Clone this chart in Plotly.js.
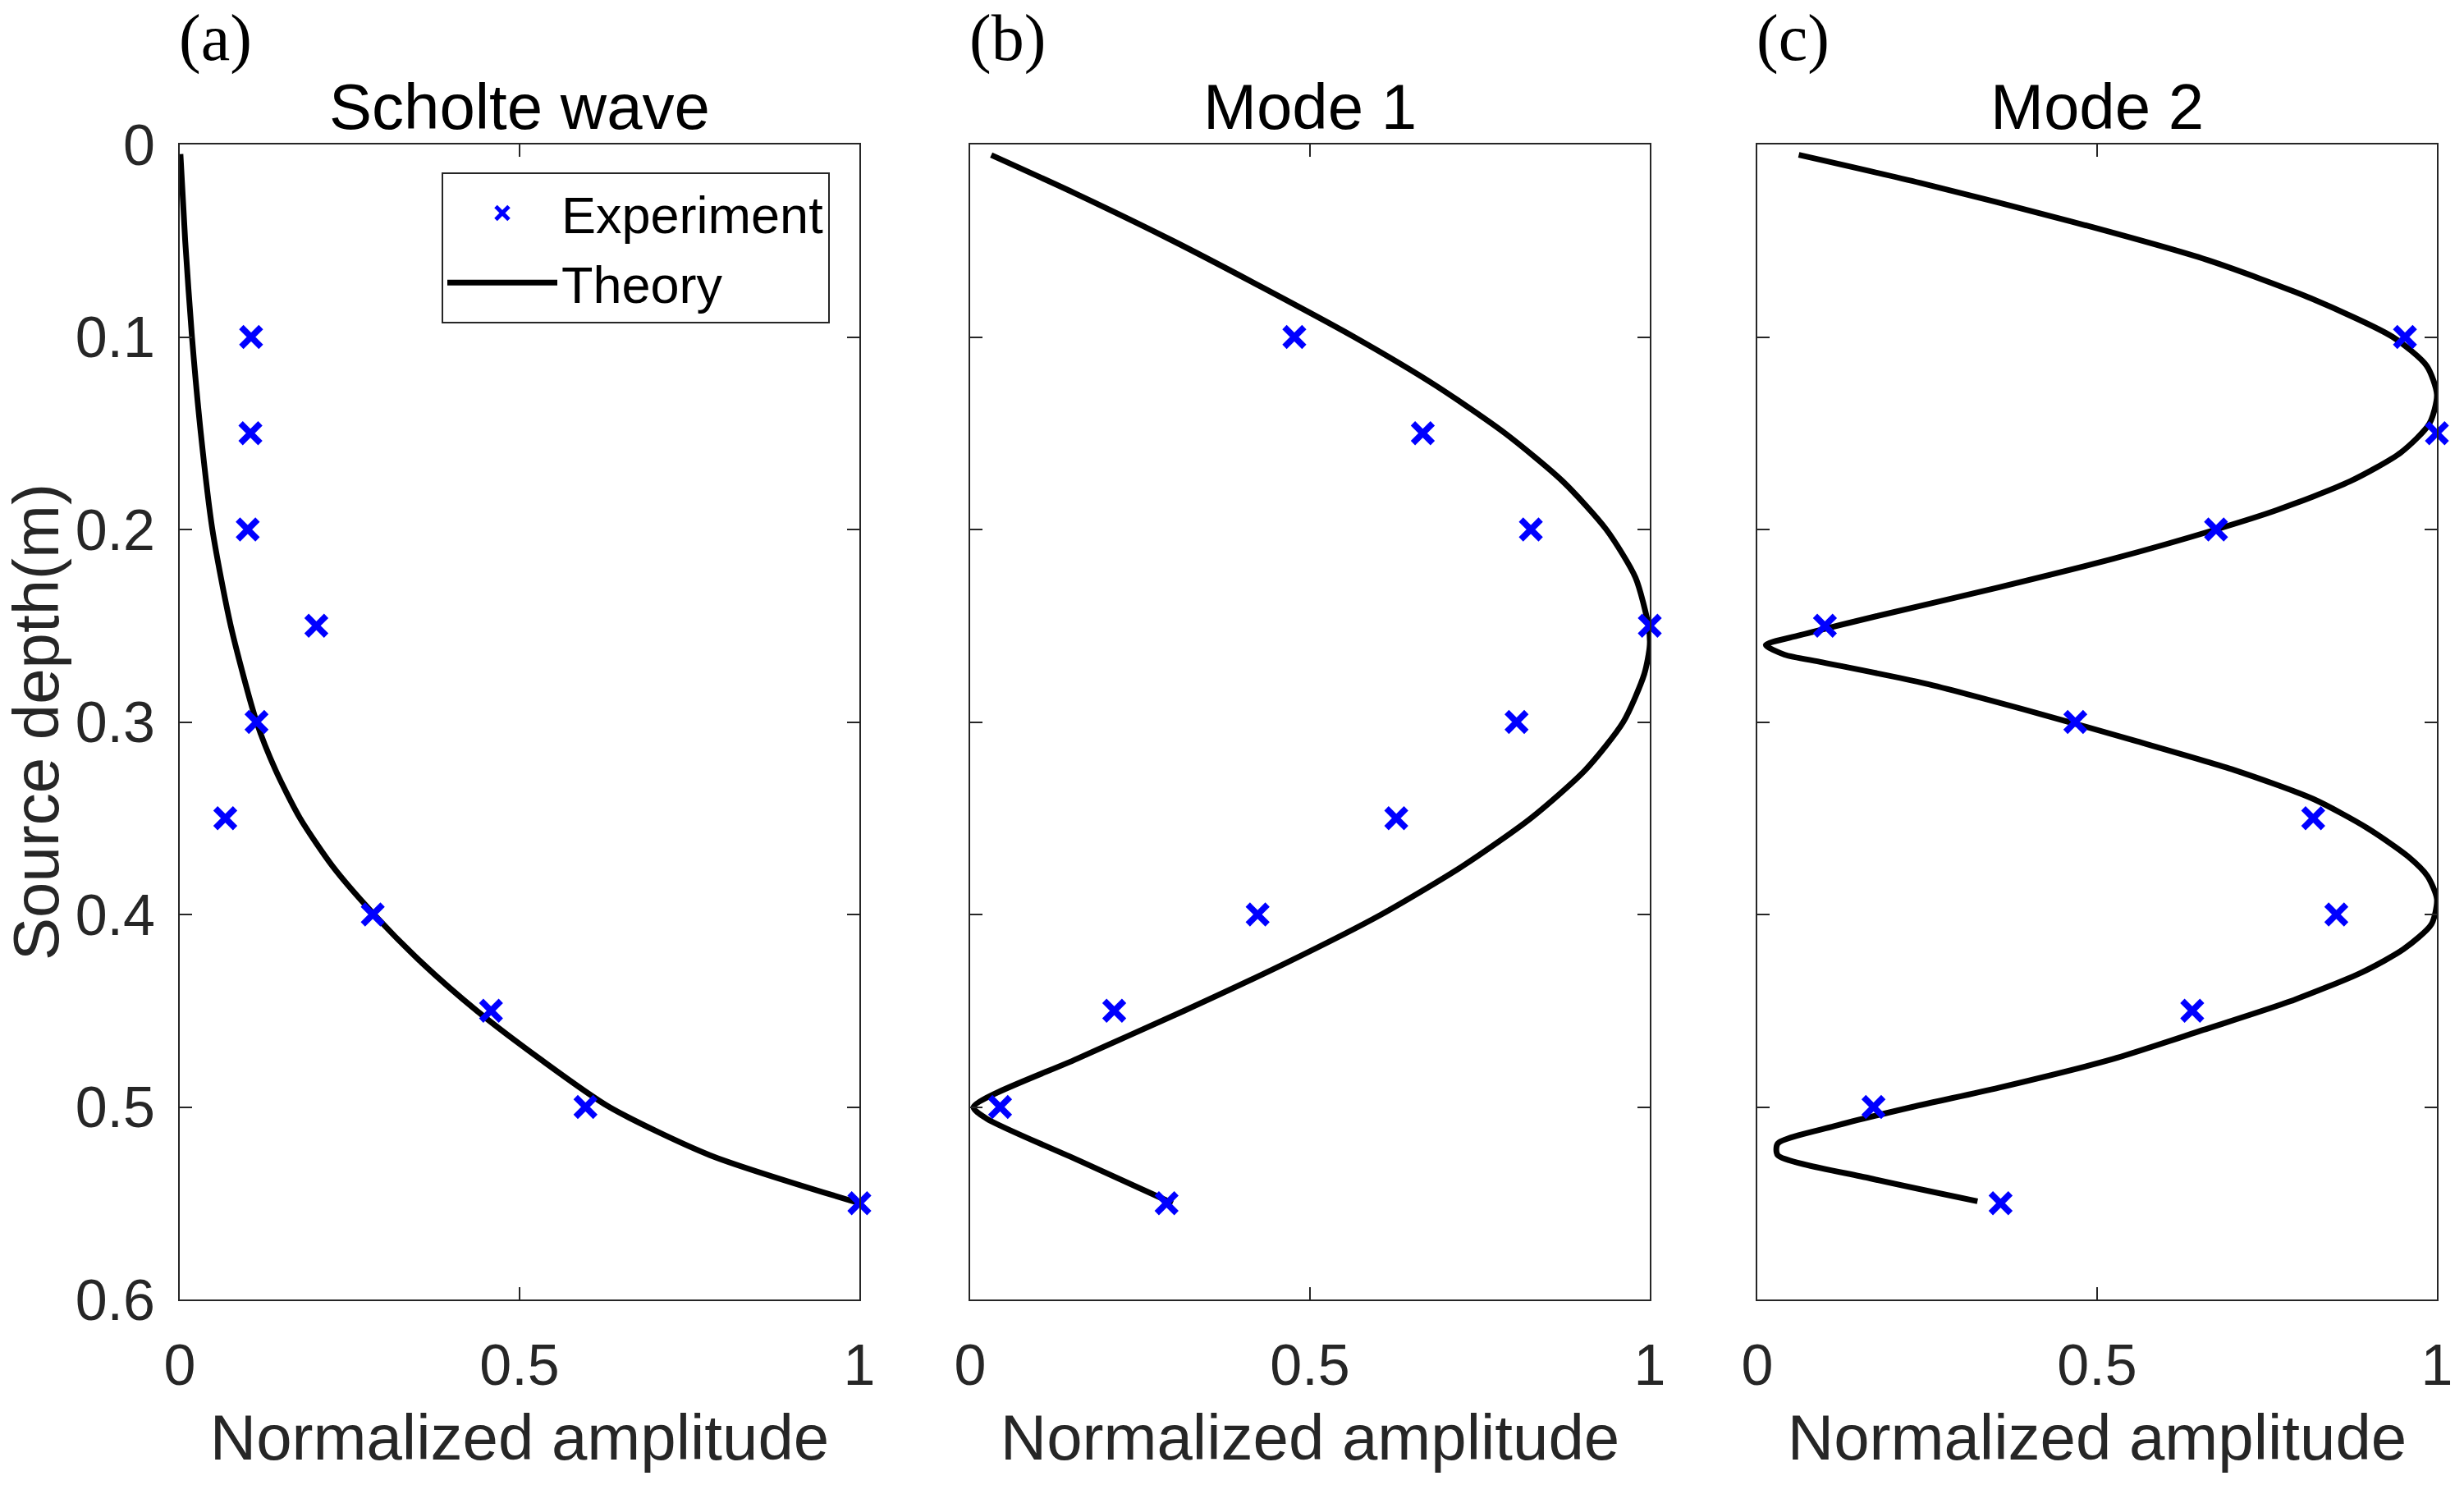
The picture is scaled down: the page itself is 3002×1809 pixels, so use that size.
<!DOCTYPE html>
<html>
<head>
<meta charset="utf-8">
<script src="https://cdn.plot.ly/plotly-3.0.1.min.js"></script>
<style>html,body{margin:0;padding:0;background:#fff;}#chart{width:3002px;height:1809px;}</style>
</head>
<body>
<div id="chart"></div>
<script>
// ---------- data ----------
const panelTitles = ['Scholte wave', 'Mode 1', 'Mode 2'];
const panelLabels = ['(a)', '(b)', '(c)'];
const xTickVals = [0, 0.5, 1];
const xTickText = ['0', '0.5', '1'];
const yTickVals = [0, 0.1, 0.2, 0.3, 0.4, 0.5, 0.6];
const yTickText = ['0', '0.1', '0.2', '0.3', '0.4', '0.5', '0.6'];
const seriesNames = ['Experiment', 'Theory'];
const xTitle = 'Normalized amplitude';
const yTitle = 'Source depth(m)';

// Experiment: source depths and normalized amplitudes
const depthExp = [0.1, 0.15, 0.2, 0.25, 0.3, 0.35, 0.4, 0.45, 0.5, 0.55];
const ampExpA = [0.105, 0.104, 0.100, 0.201, 0.113, 0.067, 0.284, 0.458, 0.597, 1.0];
const ampExpB = [0.477, 0.666, 0.825, 1.0, 0.804, 0.627, 0.423, 0.212, 0.044, 0.289];
const ampExpC = [0.953, 1.0, 0.675, 0.0995, 0.468, 0.818, 0.852, 0.640, 0.171, 0.358];

// Theory curves (depth, amplitude)
const depthTheoryA = [0.005, 0.05, 0.1, 0.15, 0.2, 0.25, 0.3, 0.325, 0.35, 0.375, 0.4, 0.425, 0.45, 0.475, 0.5, 0.525, 0.55];
const ampTheoryA   = [0.001, 0.008, 0.018, 0.031, 0.048, 0.075, 0.113, 0.141, 0.177, 0.225, 0.286, 0.356, 0.437, 0.530, 0.632, 0.780, 1.0];

const depthTheoryB = [0.0055, 0.025, 0.05, 0.075, 0.1, 0.125, 0.15, 0.175, 0.2, 0.225, 0.25, 0.26, 0.275, 0.3, 0.325, 0.35, 0.375, 0.4, 0.425, 0.45, 0.475, 0.5, 0.506, 0.528, 0.55];
const ampTheoryB   = [0.031, 0.152, 0.298, 0.434, 0.565, 0.684, 0.787, 0.872, 0.936, 0.979, 0.998, 1.0, 0.992, 0.961, 0.905, 0.825, 0.724, 0.605, 0.466, 0.315, 0.157, 0.005, 0.024, 0.161, 0.298];

const depthTheoryC = [0.0054, 0.02, 0.04, 0.06, 0.08, 0.1, 0.115, 0.13, 0.145, 0.16, 0.175, 0.19, 0.2, 0.215, 0.23, 0.245, 0.255, 0.260, 0.265, 0.269, 0.28, 0.295, 0.31, 0.325, 0.34, 0.355, 0.37, 0.38, 0.392, 0.405, 0.418, 0.43, 0.445, 0.46, 0.475, 0.49, 0.5, 0.51, 0.519, 0.525, 0.537, 0.549];
const ampTheoryC   = [0.061, 0.24, 0.462, 0.662, 0.815, 0.935, 0.985, 1.0, 0.989, 0.947, 0.872, 0.764, 0.675, 0.526, 0.356, 0.176, 0.062, 0.0125, 0.040, 0.096, 0.247, 0.408, 0.558, 0.702, 0.818, 0.897, 0.958, 0.986, 1.0, 0.992, 0.951, 0.890, 0.785, 0.656, 0.524, 0.355, 0.228, 0.113, 0.030, 0.030, 0.165, 0.324];

// ---------- styling ----------
const W = 3002, H = 1809;
const M = {l: 219, r: 33, t: 176, b: 226};
const plotW = W - M.l - M.r, plotH = H - M.t - M.b;
const pxX = p => (p - M.l) / plotW;            // pixel -> paper x
const pxY = p => (H - M.b - p) / plotH;        // pixel -> paper y
const domains = [[pxX(219), pxX(1047)], [pxX(1182), pxX(2010)], [pxX(2141), pxX(2969)]];

const SANS = 'Liberation Sans, Arial, Helvetica, sans-serif';
const SERIF = 'Liberation Serif, Times New Roman, serif';
const AX = '#262626';

const expSets = [ampExpA, ampExpB, ampExpC];
const thDepth = [depthTheoryA, depthTheoryB, depthTheoryC];
const thAmp = [ampTheoryA, ampTheoryB, ampTheoryC];

const traces = [];
for (let i = 0; i < 3; i++) {
  const xa = i === 0 ? 'x' : 'x' + (i + 1);
  const ya = i === 0 ? 'y' : 'y' + (i + 1);
  traces.push({
    type: 'scatter', mode: 'lines', name: seriesNames[1],
    x: thAmp[i], y: thDepth[i], xaxis: xa, yaxis: ya,
    showlegend: i === 0, legendrank: 2,
    line: {color: '#000000', width: 7, shape: 'spline', smoothing: 0.7}
  });
  traces.push({
    type: 'scatter', mode: 'markers', name: seriesNames[0],
    x: expSets[i], y: depthExp, xaxis: xa, yaxis: ya,
    showlegend: i === 0, legendrank: 1, cliponaxis: false,
    marker: {symbol: 'x-thin', size: 24, color: '#0000FF', line: {color: '#0000FF', width: 7.5}}
  });
}

const layout = {
  width: W, height: H,
  margin: M,
  paper_bgcolor: '#ffffff', plot_bgcolor: '#ffffff',
  font: {family: SANS, color: AX, size: 70},
  showlegend: true,
  legend: {
    x: pxX(538), y: pxY(210), xanchor: 'left', yanchor: 'top',
    bgcolor: '#ffffff', bordercolor: AX, borderwidth: 2,
    font: {family: SANS, size: 63, color: '#000000'},
    itemwidth: 134, tracegroupgap: 0, traceorder: 'normal'
  },
  annotations: [],
};

for (let i = 0; i < 3; i++) {
  const sx = i === 0 ? '' : String(i + 1);
  layout['xaxis' + sx] = {
    domain: domains[i], anchor: 'y' + sx, range: [0, 1],
    tickvals: xTickVals, ticktext: xTickText,
    ticks: 'inside', ticklen: 15, tickwidth: 2, tickcolor: AX,
    showline: true, linecolor: AX, linewidth: 2, mirror: 'ticks',
    showgrid: false, zeroline: false,
    tickfont: {family: SANS, size: 70, color: AX},
    ticklabelstandoff: 18,
    title: {text: xTitle, font: {family: SANS, size: 78, color: AX}, standoff: 22}
  };
  layout['yaxis' + sx] = {
    domain: [0, 1], anchor: 'x' + sx, range: [0.6, 0],
    tickvals: yTickVals, ticktext: yTickText,
    ticks: 'inside', ticklen: 15, tickwidth: 2, tickcolor: AX,
    showline: true, linecolor: AX, linewidth: 2, mirror: 'ticks',
    showgrid: false, zeroline: false,
    showticklabels: i === 0,
    tickfont: {family: SANS, size: 70, color: AX},
    ticklabelstandoff: 14,
    title: i === 0 ? {text: yTitle, font: {family: SANS, size: 78, color: AX}, standoff: 12} : {text: ''}
  };
  const cx = (domains[i][0] + domains[i][1]) / 2;
  layout.annotations.push({
    xref: 'paper', yref: 'paper', x: cx, y: 1, xanchor: 'center', yanchor: 'bottom',
    text: panelTitles[i], showarrow: false,
    font: {family: SANS, size: 78, color: '#000000'}
  });
  layout.annotations.push({
    xref: 'paper', yref: 'paper', x: domains[i][0] - pxX(222) + pxX(219), y: pxY(93), xanchor: 'left', yanchor: 'bottom',
    text: panelLabels[i], showarrow: false,
    font: {family: SERIF, size: 80, color: '#000000'}
  });
}

Plotly.newPlot('chart', traces, layout, {staticPlot: true, displayModeBar: false});
</script>
</body>
</html>
